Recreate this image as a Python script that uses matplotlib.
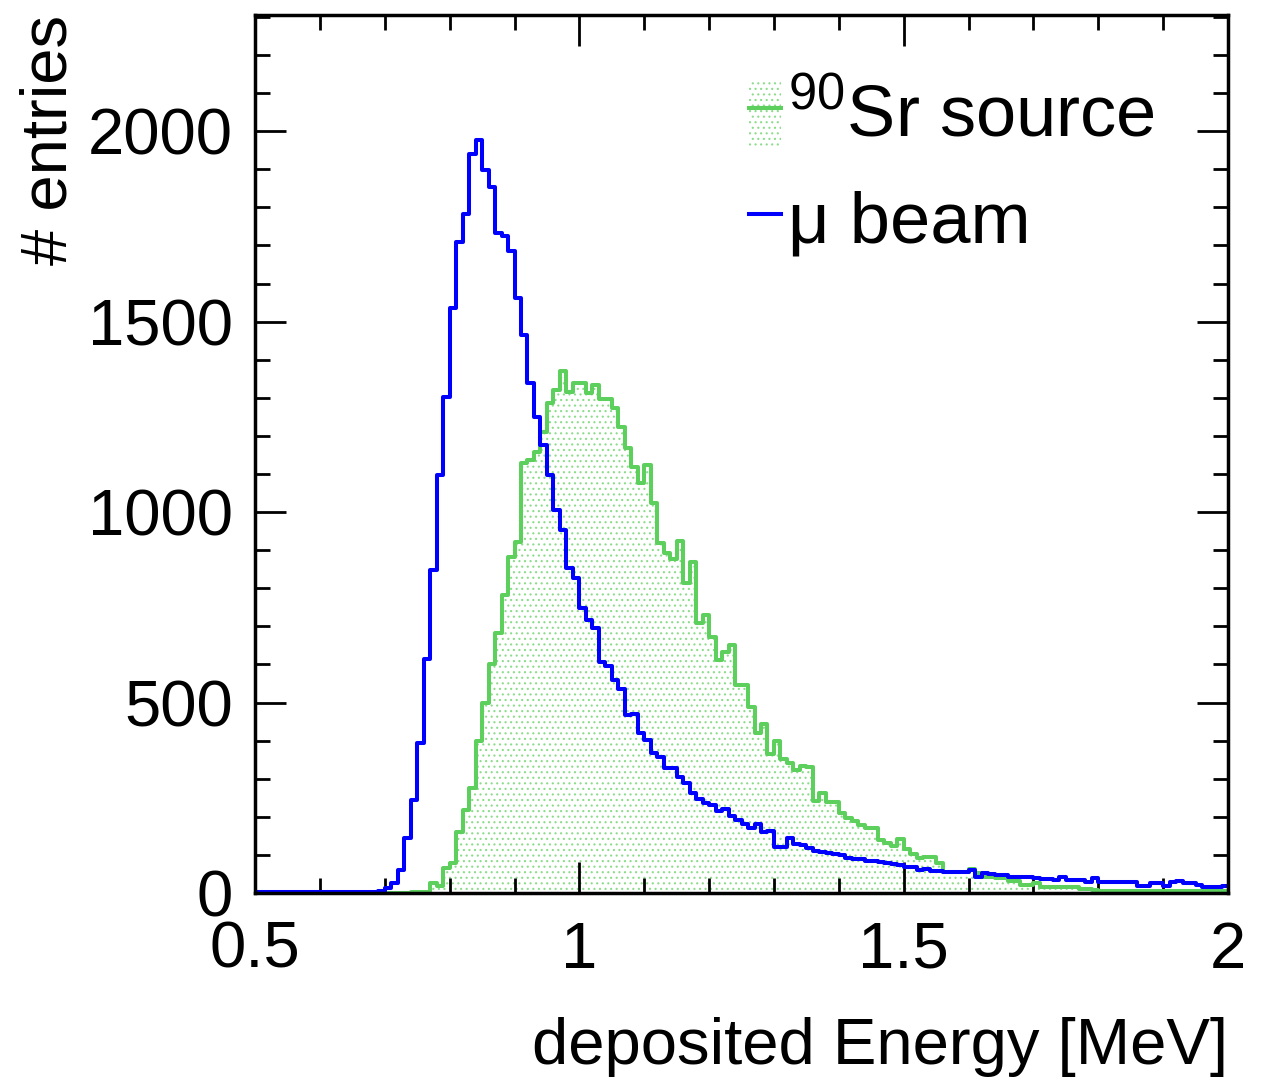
import numpy as np
from matplotlib import pyplot as plt
from matplotlib.patches import Patch
from matplotlib.lines import Line2D

# histogram binning: 150 bins of 10 keV between 0.5 and 2 MeV
e_lo, e_hi, n_bins = 0.5, 2.0, 150

# mu beam, entries per bin
mu_beam = [
    3, 3, 3, 3, 3, 3, 3, 3, 3, 3,
    3, 3, 3, 3, 3, 3, 3, 3, 3, 4,
    13, 26, 60, 144, 244, 394, 614, 848, 1097, 1302,
    1535, 1709, 1782, 1940, 1976, 1898, 1853, 1732, 1724, 1685,
    1562, 1465, 1339, 1250, 1176, 1097, 1005, 953, 853, 827,
    747, 717, 695, 606, 596, 559, 535, 467, 470, 420,
    402, 367, 357, 328, 328, 304, 289, 262, 247, 236,
    231, 215, 220, 202, 192, 181, 171, 181, 160, 163,
    121, 121, 144, 128, 126, 118, 110, 107, 104, 102,
    100, 92, 90, 88, 84, 84, 82, 79, 76, 73,
    68, 68, 60, 62, 58, 58, 56, 55, 55, 54,
    60, 42, 52, 50, 47, 46, 42, 43, 42, 42,
    40, 36, 36, 35, 42, 34, 34, 34, 29, 39,
    29, 30, 29, 29, 28, 29, 18, 18, 26, 26,
    18, 29, 32, 26, 26, 21, 16, 16, 16, 18,
]

# 90Sr source, entries per bin
sr_source = [
    0, 0, 0, 0, 0, 0, 0, 0, 0, 0,
    0, 0, 0, 0, 0, 0, 0, 0, 0, 0,
    1, 1, 1, 1, 2, 2, 3, 26, 18, 65,
    80, 160, 218, 275, 400, 500, 600, 682, 782, 882,
    921, 1128, 1136, 1157, 1210, 1287, 1320, 1370, 1315, 1340,
    1340, 1312, 1333, 1297, 1297, 1273, 1223, 1168, 1118, 1076,
    1123, 1024, 919, 892, 877, 924, 814, 869, 708, 730,
    672, 612, 633, 651, 546, 546, 488, 420, 443, 365,
    399, 352, 341, 323, 333, 331, 241, 262, 239, 239,
    210, 197, 190, 178, 171, 171, 139, 131, 123, 142,
    115, 102, 92, 95, 95, 79, 55, 55, 55, 55,
    63, 52, 42, 42, 40, 39, 32, 32, 21, 21,
    26, 16, 16, 16, 16, 16, 16, 10, 10, 8,
    5, 5, 6, 5, 5, 4, 5, 5, 4, 5,
    5, 4, 5, 5, 4, 5, 5, 4, 5, 5,
]

green = '#5ccf5c'
green_dots = '#8cdc8c'
blue = '#0000ff'

plt.rcParams['font.family'] = ['Liberation Sans', 'DejaVu Sans']
plt.rcParams['hatch.linewidth'] = 0.8
plt.rcParams['mathtext.fontset'] = 'custom'
plt.rcParams['mathtext.rm'] = 'Liberation Sans'

edges = np.linspace(e_lo, e_hi, n_bins + 1)
sr = np.append(sr_source, sr_source[-1])
mu = np.append(mu_beam, mu_beam[-1])

fig = plt.figure(figsize=(12.65, 10.84), dpi=100)
ax = fig.add_axes([0.2016, 0.1762, 0.7692, 0.81])

ax.fill_between(edges, 0, sr, step='post', facecolor='none',
                edgecolor=green_dots, hatch='...', linewidth=0)
ax.step(edges, sr, where='post', color=green, lw=2.9)
ax.step(edges, mu, where='post', color=blue, lw=2.9)

ax.set_xlim(e_lo, e_hi)
ax.set_ylim(0, 2305)

ax.set_xticks([0.5, 1, 1.5, 2])
ax.set_xticklabels(['0.5', '1', '1.5', '2'])
ax.set_xticks(np.arange(0.6, 2.0, 0.1), minor=True)
ax.set_yticks([0, 500, 1000, 1500, 2000])
ax.set_yticks(np.arange(100, 2301, 100), minor=True)

ax.tick_params(which='both', direction='in', top=True, right=True,
               width=2, labelsize=47, color='black')
ax.tick_params(axis='x', which='major', length=22, pad=20)
ax.tick_params(axis='x', which='minor', length=11)
ax.tick_params(axis='y', which='major', length=22, pad=16)
ax.tick_params(axis='y', which='minor', length=11)
for s in ax.spines.values():
    s.set_linewidth(2.5)

ax.set_xlabel('deposited Energy [MeV]', fontsize=47, loc='right')
ax.xaxis.set_label_coords(1.0, -0.141)
ax.set_ylabel('# entries', fontsize=47, loc='top')
ax.yaxis.set_label_coords(-0.18, 1.0)

handles = [
    (Patch(facecolor='none', edgecolor=green_dots, hatch='...', linewidth=0),
     Line2D([], [], color=green, lw=2.9)),
    Line2D([], [], color=blue, lw=2.9),
]
labels = [r'$^{90}$Sr source', 'μ beam']
ax.legend(handles, labels, loc='upper left', bbox_to_anchor=(0.508, 0.927),
          frameon=False, fontsize=52, handlelength=0.44, handleheight=1.05,
          handletextpad=0.1, labelspacing=0.45, borderpad=0, borderaxespad=0)

fig.savefig('out.png', dpi=100)
